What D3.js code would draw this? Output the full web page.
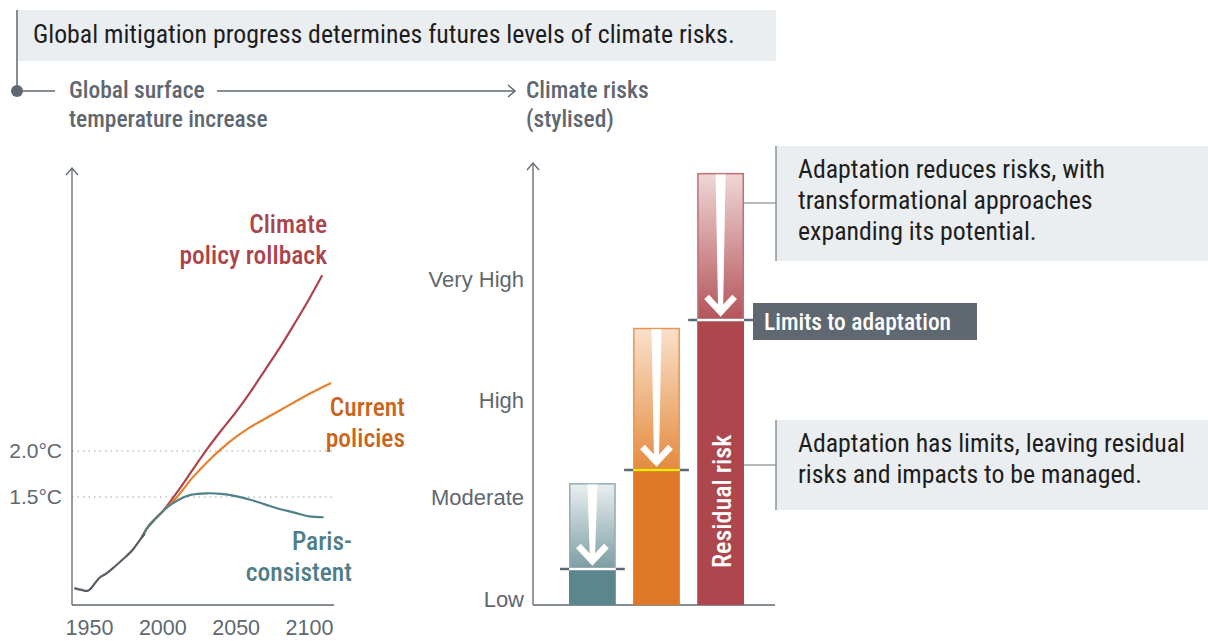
<!DOCTYPE html>
<html>
<head>
<meta charset="utf-8">
<script src="https://cdn.jsdelivr.net/npm/d3@7"></script>
<style>
  body { margin: 0; background: #fff; }
  svg { display: block; font-family: "Liberation Sans Narrow", "Roboto Condensed", Roboto, sans-serif; }
</style>
</head>
<body>
<div id="chart"></div>
<script>
// temperature pathways (stylised, °C)
const histYears = [1940, 1945, 1949, 1952, 1957, 1962, 1968, 1975, 1980, 1985, 1988];
const histTemp  = [0.51, 0.49, 0.48, 0.52, 0.62, 0.67, 0.75, 0.85, 0.93, 1.04, 1.10];

const parisYears = [1986, 1990, 1995, 2000, 2005, 2010, 2015, 2020, 2030, 2040, 2050, 2060, 2070, 2080, 2090, 2100, 2110];
const parisTemp  = [1.06, 1.17, 1.26, 1.34, 1.41, 1.46, 1.50, 1.525, 1.54, 1.535, 1.51, 1.47, 1.42, 1.37, 1.33, 1.29, 1.28];

const currentYears = [1986, 1990, 1995, 2000, 2010, 2020, 2030, 2040, 2050, 2060, 2070, 2080, 2090, 2100, 2115];
const currentTemp  = [1.06, 1.17, 1.26, 1.34, 1.50, 1.70, 1.87, 2.02, 2.15, 2.26, 2.35, 2.44, 2.53, 2.62, 2.74];

const rollbackYears = [1986, 1990, 1995, 2000, 2010, 2020, 2030, 2040, 2050, 2060, 2070, 2080, 2090, 2100, 2109];
const rollbackTemp  = [1.06, 1.17, 1.26, 1.34, 1.55, 1.78, 2.01, 2.22, 2.42, 2.64, 2.88, 3.12, 3.38, 3.65, 3.91];

const yearTicks = [1950, 2000, 2050, 2100];
const tempTicks = [1.5, 2.0];
const tempTickLabels = ["1.5°C", "2.0°C"];

// stylised risk levels (0 = low ... 100 = top of axis)
const barNames = ["Paris-consistent", "Current policies", "Climate policy rollback"];
const riskWithoutAdaptation = [27.7, 63.0, 98.2];
const riskResidual = [8.2, 30.7, 64.8];
const riskTicks = [1.2, 24.5, 46.6, 73.9];
const riskTickLabels = ["Low", "Moderate", "High", "Very High"];

const W = 1208, H = 641;
const grey = "#5f6770";
const svg = d3.select("#chart").append("svg").attr("width", W).attr("height", H);

// ---------- header ----------
svg.append("rect").attr("x", 17).attr("y", 10).attr("width", 759).attr("height", 51).attr("fill", "#ebeef0");
svg.append("text").attr("x", 33).attr("y", 43).attr("font-size", 25.8).attr("fill", "#1d1d1d")
  .text("Global mitigation progress determines futures levels of climate risks.");
svg.append("line").attr("x1", 17).attr("x2", 17).attr("y1", 10).attr("y2", 91).attr("stroke", grey).attr("stroke-width", 1.5);
svg.append("circle").attr("cx", 17).attr("cy", 91).attr("r", 6).attr("fill", grey);
svg.append("line").attr("x1", 17).attr("x2", 55).attr("y1", 91).attr("y2", 91).attr("stroke", grey).attr("stroke-width", 1.5);
svg.append("line").attr("x1", 217).attr("x2", 515).attr("y1", 91).attr("y2", 91).attr("stroke", grey).attr("stroke-width", 1.5);
svg.append("path").attr("d", "M508,85L515,91L508,97").attr("fill", "none").attr("stroke", grey).attr("stroke-width", 1.5);

const heads = [
  {x: 69, lines: ["Global surface", "temperature increase"]},
  {x: 526, lines: ["Climate risks", "(stylised)"]}
];
heads.forEach(h => {
  h.lines.forEach((t, i) => {
    svg.append("text").attr("x", h.x).attr("y", 98 + i * 29).attr("font-size", 23.5)
      .attr("font-weight", 500).attr("fill", grey).text(t);
  });
});

// ---------- left: temperature ----------
const x = d3.scaleLinear().domain([1950, 2100]).range([89, 309]);
const yT = d3.scaleLinear().domain([1.5, 2.0]).range([497, 451]);
const axisX0 = 72, axisY0 = 605;

const left = svg.append("g");
left.selectAll(".grid").data(tempTicks).join("line")
  .attr("x1", axisX0).attr("x2", 334)
  .attr("y1", d => yT(d)).attr("y2", d => yT(d))
  .attr("stroke", "#9aa0a6").attr("stroke-width", 1).attr("stroke-dasharray", "1.5,4");

left.append("line").attr("x1", axisX0).attr("x2", axisX0).attr("y1", 168).attr("y2", axisY0).attr("stroke", grey).attr("stroke-width", 1.3);
left.append("line").attr("x1", axisX0).attr("x2", 334).attr("y1", axisY0).attr("y2", axisY0).attr("stroke", grey).attr("stroke-width", 1.3);
left.append("path").attr("d", `M${axisX0 - 6},175L${axisX0},168L${axisX0 + 6},175`).attr("fill", "none").attr("stroke", grey).attr("stroke-width", 1.3);

const xAxis = d3.axisBottom(x).tickValues(yearTicks).tickFormat(d3.format("d")).tickSize(0).tickPadding(0);
left.append("g").attr("transform", `translate(0,${axisY0})`).call(xAxis)
  .call(g => g.select(".domain").remove())
  .call(g => g.selectAll("text").attr("y", 30).attr("dy", null).attr("font-size", 21.5).attr("fill", grey).attr("font-family", null));

const yAxisT = d3.axisLeft(yT).tickValues(tempTicks).tickFormat((d, i) => tempTickLabels[i]).tickSize(0).tickPadding(0);
left.append("g").attr("transform", `translate(62,0)`).call(yAxisT)
  .call(g => g.select(".domain").remove())
  .call(g => g.selectAll("text").attr("font-size", 21).attr("fill", grey).attr("font-family", null));

const line = d3.line().x(d => x(d[0])).y(d => yT(d[1])).curve(d3.curveCatmullRom.alpha(0.5));
const series = [
  {years: rollbackYears, temps: rollbackTemp, color: "#ab444c"},
  {years: currentYears, temps: currentTemp, color: "#e6812f"},
  {years: parisYears, temps: parisTemp, color: "#4f8189"},
  {years: histYears, temps: histTemp, color: "#575e65"}
];
left.selectAll(".series").data(series).join("path")
  .attr("d", s => line(d3.zip(s.years, s.temps)))
  .attr("fill", "none").attr("stroke", s => s.color).attr("stroke-width", 2.2);

const labels = [
  {lines: ["Climate", "policy rollback"], x: 327, y: 233, color: "#ab444c"},
  {lines: ["Current", "policies"], x: 405, y: 416, color: "#c9651d"},
  {lines: ["Paris-", "consistent"], x: 352, y: 550, color: "#4f7e86"}
];
labels.forEach(l => {
  l.lines.forEach((t, i) => {
    left.append("text").attr("x", l.x).attr("y", l.y + i * 31).attr("text-anchor", "end")
      .attr("font-size", 25.5).attr("font-weight", 500).attr("fill", l.color).text(t);
  });
});

// ---------- right: risk bars ----------
const yR = d3.scaleLinear().domain([0, 100]).range([605, 165]);
const xB = d3.scaleBand().domain(barNames).range([569, 744]).paddingInner(0.27);
const rAxisX = 533;

const right = svg.append("g");
right.append("line").attr("x1", rAxisX).attr("x2", rAxisX).attr("y1", 163).attr("y2", yR(0)).attr("stroke", grey).attr("stroke-width", 1.3);
right.append("line").attr("x1", rAxisX).attr("x2", 775).attr("y1", yR(0)).attr("y2", yR(0)).attr("stroke", grey).attr("stroke-width", 1.3);
right.append("path").attr("d", `M${rAxisX - 6},170L${rAxisX},163L${rAxisX + 6},170`).attr("fill", "none").attr("stroke", grey).attr("stroke-width", 1.3);

const yAxisR = d3.axisLeft(yR).tickValues(riskTicks).tickFormat((d, i) => riskTickLabels[i]).tickSize(0).tickPadding(0);
right.append("g").attr("transform", `translate(524,0)`).call(yAxisR)
  .call(g => g.select(".domain").remove())
  .call(g => g.selectAll("text").attr("font-size", 22).attr("fill", grey).attr("font-family", null));

const barStyle = [
  {light: "#e9eff1", mid: "#7d9da3", edge: "#93adb2", solid: "#5b868e", mark: "#ffffff"},
  {light: "#f9e1cb", mid: "#e58a3e", edge: "#e99452", solid: "#e07828", mark: "#ffe800"},
  {light: "#efd7d6", mid: "#b4535a", edge: "#c26e73", solid: "#ad474d", mark: "#ffffff"}
];
const defs = svg.append("defs");
barStyle.forEach((s, i) => {
  const g = defs.append("linearGradient").attr("id", "grad" + i).attr("x1", 0).attr("x2", 0).attr("y1", 0).attr("y2", 1);
  g.append("stop").attr("offset", "0%").attr("stop-color", s.light);
  g.append("stop").attr("offset", "100%").attr("stop-color", s.mid);
});

const bars = barNames.map((name, i) => ({name, top: riskWithoutAdaptation[i], res: riskResidual[i], style: barStyle[i], i}));
const bw = xB.bandwidth();

const bg = right.selectAll(".bar").data(bars).join("g");
bg.append("rect")
  .attr("x", d => xB(d.name) + 0.75).attr("width", bw - 1.5)
  .attr("y", d => yR(d.top) + 0.75).attr("height", d => yR(d.res) - yR(d.top) - 0.75)
  .attr("fill", d => `url(#grad${d.i})`).attr("stroke", d => d.style.edge).attr("stroke-width", 1.5);
bg.append("rect")
  .attr("x", d => xB(d.name)).attr("width", bw)
  .attr("y", d => yR(d.res)).attr("height", d => yR(0) - yR(d.res))
  .attr("fill", d => d.style.solid);

// adaptation arrows
bg.append("path")
  .attr("d", d => {
    const cx = xB(d.name) + bw / 2, t = yR(d.top) + 1.5, b = yR(d.res) - 10;
    return `M${cx - 5},${t}L${cx + 5},${t}L${cx + 2.5},${b}L${cx - 2.5},${b}Z`;
  })
  .attr("fill", "#fff");
bg.append("path")
  .attr("d", d => {
    const cx = xB(d.name) + bw / 2, tip = yR(d.res) - 8;
    return `M${cx - 14},${tip - 15}L${cx},${tip}L${cx + 14},${tip - 15}`;
  })
  .attr("fill", "none").attr("stroke", "#fff").attr("stroke-width", 6.5).attr("stroke-linejoin", "miter");

// residual thresholds
bg.append("line")
  .attr("x1", d => xB(d.name) - 9).attr("x2", d => d.i === 2 ? 753 : xB(d.name) + bw + 9)
  .attr("y1", d => yR(d.res)).attr("y2", d => yR(d.res))
  .attr("stroke", grey).attr("stroke-width", 2.5);
bg.append("line")
  .attr("x1", d => xB(d.name)).attr("x2", d => xB(d.name) + bw)
  .attr("y1", d => yR(d.res)).attr("y2", d => yR(d.res))
  .attr("stroke", d => d.style.mark).attr("stroke-width", 2.5);

const last = bars[2];
right.append("text")
  .attr("transform", `translate(${xB(last.name) + bw / 2 + 10},${yR(0) - 37}) rotate(-90)`)
  .attr("font-size", 26).attr("font-weight", 500).attr("fill", "#fff").text("Residual risk");

// limits box
right.append("rect").attr("x", 753).attr("y", 303).attr("width", 224).attr("height", 37).attr("fill", grey);
right.append("text").attr("x", 764).attr("y", 330).attr("font-size", 23.5).attr("font-weight", 500).attr("fill", "#fff").text("Limits to adaptation");

// annotation boxes
const notes = [
  {y: 146, h: 115, link: 203, lines: ["Adaptation reduces risks, with", "transformational approaches", "expanding its potential."]},
  {y: 420, h: 90, link: 465, lines: ["Adaptation has limits, leaving residual", "risks and impacts to be managed."]}
];
notes.forEach(n => {
  right.append("line").attr("x1", 744).attr("x2", 776).attr("y1", n.link).attr("y2", n.link).attr("stroke", "#8b939a").attr("stroke-width", 1.3);
  right.append("rect").attr("x", 776).attr("y", n.y).attr("width", W - 776).attr("height", n.h).attr("fill", "#ebeef0");
  right.append("line").attr("x1", 776).attr("x2", 776).attr("y1", n.y).attr("y2", n.y + n.h).attr("stroke", "#8b939a").attr("stroke-width", 1.5);
  n.lines.forEach((t, i) => {
    right.append("text").attr("x", 798).attr("y", n.y + 32 + i * 31).attr("font-size", 25.8).attr("fill", "#1d1d1d").text(t);
  });
});
</script>
</body>
</html>
